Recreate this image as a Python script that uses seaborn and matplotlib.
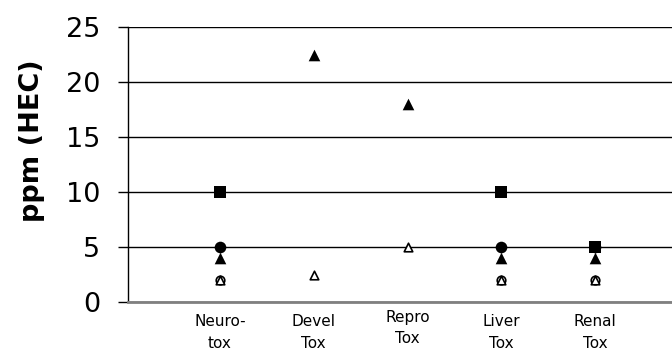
import numpy as np
import pandas as pd
import matplotlib
matplotlib.use("Agg")
import matplotlib.pyplot as plt
import seaborn as sns

categories = ["Neuro-\ntox", "Devel\nTox", "Repro\nTox", "Liver\nTox", "Renal\nTox"]
filled_square = [10, np.nan, np.nan, 10, 5]
filled_circle = [5, np.nan, np.nan, 5, 5]
filled_triangle = [4, 22.5, 18, 4, 4]
open_circle = [2, np.nan, np.nan, 2, 2]
open_triangle = [2, 2.5, 5, 2, 2]
y_ticks = [0, 5, 10, 15, 20, 25]

sns.set_theme(style="white")
plt.rcParams["font.family"] = ["DejaVu Sans"]

fig = plt.figure(figsize=(6.72, 3.51), dpi=100)
ax = fig.add_axes([128 / 672, 49 / 351, 1 - 128 / 672, 275 / 351])

df = pd.DataFrame({
    "cat": categories,
    "sq": filled_square,
    "ci": filled_circle,
    "tf": filled_triangle,
    "co": open_circle,
    "to": open_triangle,
})

for ycol, marker, size, fc, lw in [
    ("ci", "o", 70, "black", 0),
    ("sq", "s", 80, "black", 0),
    ("tf", "^", 70, "black", 0),
    ("co", "o", 38, "white", 1.2),
    ("to", "^", 38, "white", 1.2),
]:
    sns.scatterplot(data=df, x="cat", y=ycol, marker=marker, s=size,
                    facecolor=fc, edgecolor="black", linewidth=lw, ax=ax,
                    zorder=3, legend=False)

ax.set_xlim(-0.98, 4.82)
ax.set_ylim(0, 25)
ax.set_yticks(y_ticks)
ax.set_yticklabels([str(t) for t in y_ticks], fontsize=19.5, color="black")
ax.yaxis.grid(True, color="black", linewidth=1)
ax.xaxis.grid(False)
ax.set_axisbelow(True)
ax.tick_params(axis="y", which="major", direction="out", length=7, width=1,
               color="black", left=True, pad=13)
ax.tick_params(axis="x", length=0, labelsize=11, pad=9, labelcolor="black")
for i, lab in enumerate(ax.get_xticklabels()):
    lab.set_linespacing(1.5)
    lab.set_horizontalalignment("center")
    if i == 2:
        lab.set_y(0.015)
ax.set_xlabel("")
ax.set_ylabel("ppm (HEC)", fontsize=19.5, fontweight="bold", color="black")
ax.yaxis.set_label_coords(-0.152, 0.585)

for side in ["top", "right"]:
    ax.spines[side].set_visible(False)
ax.spines["left"].set_color("black")
ax.spines["left"].set_linewidth(1)
ax.spines["bottom"].set_color("#808080")
ax.spines["bottom"].set_linewidth(2)

fig.savefig("out.png", dpi=100)
